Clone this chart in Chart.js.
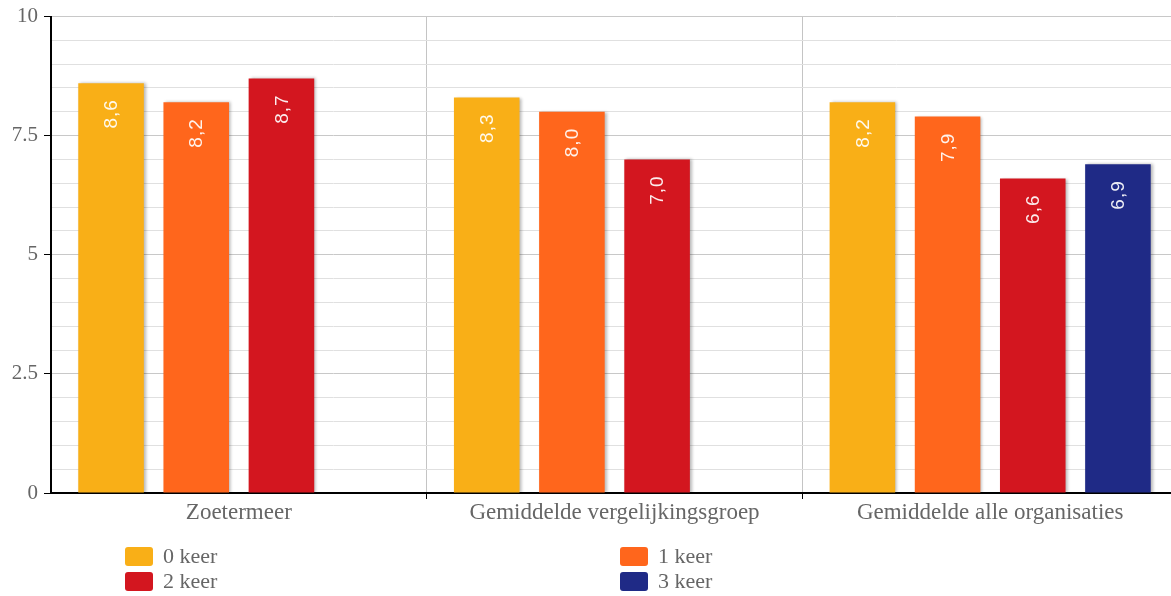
<!DOCTYPE html>
<html>
<head>
<meta charset="utf-8">
<script src="https://cdn.jsdelivr.net/npm/chart.js@4.4.1/dist/chart.umd.min.js"></script>
<style>
    html, body { margin: 0; padding: 0; background: #fff; overflow: hidden; }
    #wrap { position: relative; width: 1171px; height: 596px; overflow: hidden; }
    #chart { position: absolute; left: 0; top: 0; }
    .lg { position: absolute; font-family: 'Liberation Serif', 'DejaVu Serif', serif; font-size: 22px; color: #666; line-height: 20px; }
    .lg__box { position: absolute; width: 28px; height: 19px; border-radius: 3px; }
    .lg__txt { position: absolute; white-space: nowrap; }
</style>
</head>
<body>
<div id="wrap">
    <canvas id="chart" width="1178" height="596"></canvas>
    <div id="legend"></div>
</div>
<script>
// ── Data ──
const categories = ['Zoetermeer', 'Gemiddelde vergelijkingsgroep', 'Gemiddelde alle organisaties'];
const seriesNames = ['0 keer', '1 keer', '2 keer', '3 keer'];
const seriesColors = ['#F9AF17', '#FF661C', '#D3161F', '#1F2A86'];
const keer0 = [8.6, 8.3, 8.2];
const keer1 = [8.2, 8.0, 7.9];
const keer2 = [8.7, 7.0, 6.6];
const keer3 = [null, null, 6.9];
const yTicks = [0, 2.5, 5, 7.5, 10];

const seriesValues = [keer0, keer1, keer2, keer3];

// ── Legend (two columns, column-major) ──
const legendSlots = [
    { x: 125, y: 547 }, { x: 620, y: 547 },
    { x: 125, y: 572 }, { x: 620, y: 572 },
];
document.getElementById('legend').innerHTML = seriesNames.map((name, si) => {
    const p = legendSlots[si];
    return `<div class="lg" style="left:${p.x}px; top:${p.y}px;">
        <div class="lg__box" style="left:0; top:0; background:${seriesColors[si]};"></div>
        <div class="lg__txt" style="left:38px; top:-1px;">${name}</div>
    </div>`;
}).join('');

// ── Plugins ──
const barShadow = {
    id: 'barShadow',
    beforeDatasetDraw(chart) {
        const c = chart.ctx;
        c.save();
        c.shadowColor = 'rgba(0,0,0,0.28)';
        c.shadowBlur = 3;
        c.shadowOffsetX = 2;
        c.shadowOffsetY = 0;
    },
    afterDatasetDraw(chart) {
        chart.ctx.restore();
    },
};

const valueLabels = {
    id: 'valueLabels',
    afterDatasetsDraw(chart) {
        const c = chart.ctx;
        chart.data.datasets.forEach((ds, di) => {
            const meta = chart.getDatasetMeta(di);
            meta.data.forEach((bar, i) => {
                const v = ds.data[i];
                if (v == null) return;
                c.save();
                c.translate(bar.x, bar.y + 16);
                c.rotate(-Math.PI / 2);
                c.font = '19px "Liberation Sans", Arial, sans-serif';
                if ('letterSpacing' in c) c.letterSpacing = '1px';
                c.fillStyle = 'rgba(255,255,255,0.92)';
                c.textAlign = 'right';
                c.textBaseline = 'middle';
                c.fillText(v.toFixed(1).replace('.', ','), 0, 1);
                c.restore();
            });
        });
    },
};

// ── Chart ──
const isMajor = v => Math.abs(v / 2.5 - Math.round(v / 2.5)) < 1e-6;
const serif = "'Liberation Serif', 'DejaVu Serif', serif";

new Chart(document.getElementById('chart'), {
    type: 'bar',
    data: {
        labels: categories,
        datasets: seriesNames.map((name, si) => ({
            label: name,
            data: seriesValues[si],
            backgroundColor: seriesColors[si],
            borderWidth: 0,
            categoryPercentage: 0.907,
            barPercentage: 0.77,
        })),
    },
    options: {
        responsive: false,
        animation: false,
        layout: { padding: { top: 15, right: 0, left: 0, bottom: 0 } },
        plugins: {
            legend: { display: false },
            tooltip: { enabled: false },
        },
        scales: {
            x: {
                afterFit: s => { s.height = 103; },
                grid: {
                    offset: true,
                    color: '#c4c4c4',
                    tickColor: ctx => ctx.index === 0 ? 'rgba(0,0,0,0)' : '#000',
                    tickLength: 6,
                    lineWidth: 1,
                },
                border: { color: '#000', width: 2 },
                ticks: {
                    color: '#666',
                    padding: 2,
                    font: { family: serif, size: 23, lineHeight: 1 },
                },
            },
            y: {
                min: 0,
                max: 10,
                afterFit: s => { s.width = 51; },
                afterBuildTicks: s => {
                    const t = [];
                    for (let v = 0; v <= 10.0001; v += 0.5) t.push({ value: Math.round(v * 10) / 10 });
                    s.ticks = t;
                },
                grid: {
                    color: ctx => (ctx.tick && isMajor(ctx.tick.value)) ? '#c8c8c8' : '#e0e0e0',
                    tickColor: ctx => (ctx.tick && isMajor(ctx.tick.value)) ? '#000' : 'rgba(0,0,0,0)',
                    tickLength: 7,
                },
                border: { color: '#000', width: 2 },
                ticks: {
                    color: '#666',
                    padding: 6,
                    autoSkip: false,
                    font: { family: serif, size: 21, lineHeight: 1 },
                    callback: v => yTicks.includes(v) ? String(v) : '',
                },
            },
        },
    },
    plugins: [barShadow, valueLabels],
});
</script>
</body>
</html>
